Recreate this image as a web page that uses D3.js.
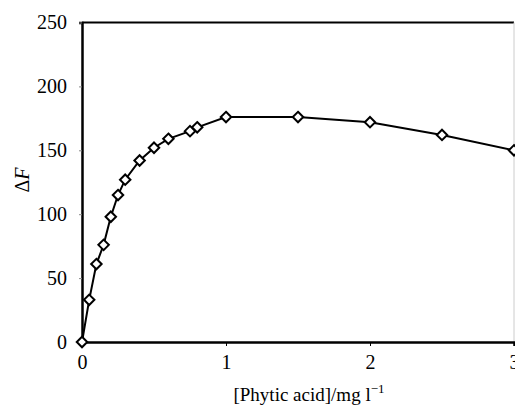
<!DOCTYPE html>
<html>
<head>
<meta charset="utf-8">
<script src="https://cdn.jsdelivr.net/npm/d3@7"></script>
<style>
  body { margin: 0; background: #fff; }
  svg { display: block; }
  text { font-family: "Liberation Serif", "Times New Roman", serif; fill: #000; }
</style>
</head>
<body>
<svg id="chart" width="515" height="408"></svg>
<script>
const conc = [0, 0.05, 0.1, 0.15, 0.2, 0.25, 0.3, 0.4, 0.5, 0.6, 0.75, 0.8, 1, 1.5, 2, 2.5, 3];
const deltaF = [0, 33, 61, 76, 98, 115, 127, 142, 152, 159, 165, 168, 176, 176, 172, 162, 150];
const xTicks = [0, 1, 2, 3];
const yTicks = [0, 50, 100, 150, 200, 250];

const padL = 82, padR = 514, padT = 22.5, padB = 342;

const svg = d3.select("#chart");

const xScale = d3.scaleLinear([0, 3], [padL, padR]);
const yScale = d3.scaleLinear([0, 250], [padB, padT]);

const points = conc.map((c, i) => ({x: c, y: deltaF[i]}));

// frame: top and faint right edge
svg.append("line")
    .attr("x1", padL).attr("x2", padR)
    .attr("y1", padT).attr("y2", padT)
    .attr("stroke", "#000").attr("stroke-width", 2);
svg.append("line")
    .attr("x1", padR).attr("x2", padR)
    .attr("y1", padT).attr("y2", padB)
    .attr("stroke", "#ccc").attr("stroke-width", 1);

const xAxis = d3.axisBottom(xScale)
                .tickValues(xTicks)
                .tickSize(4)
                .tickPadding(9)
                .tickFormat(d3.format("d"));

const yAxis = d3.axisLeft(yScale)
                .tickValues(yTicks)
                .tickSize(3)
                .tickPadding(12);

const gx = svg.append("g")
    .attr("transform", `translate(0, ${padB})`)
    .call(xAxis);
gx.select(".domain").attr("stroke-width", 2.5);
gx.selectAll("text").attr("font-size", "20px").attr("font-family", "Liberation Serif");

const gy = svg.append("g")
    .attr("transform", `translate(${padL}, 0)`)
    .call(yAxis);
gy.select(".domain").attr("stroke-width", 2.5);
gy.selectAll(".tick line").attr("stroke", "#888");
gy.selectAll("text").attr("font-size", "20px").attr("font-family", "Liberation Serif");

const lineMaker = d3.line()
                    .x(d => xScale(d.x))
                    .y(d => yScale(d.y));

svg.append("path")
    .datum(points)
    .attr("d", lineMaker)
    .attr("fill", "none")
    .attr("stroke", "#000")
    .attr("stroke-width", 2);

svg.selectAll(".pt")
    .data(points)
    .enter()
    .append("path")
    .attr("class", "pt")
    .attr("d", d3.symbol().type(d3.symbolDiamond2).size(70))
    .attr("transform", d => `translate(${xScale(d.x)}, ${yScale(d.y)})`)
    .attr("fill", "#fff")
    .attr("stroke", "#000")
    .attr("stroke-width", 2);

// axis titles
const xt = svg.append("text")
    .attr("x", 309)
    .attr("y", 401)
    .attr("text-anchor", "middle")
    .attr("font-size", "19px");
xt.append("tspan").text("[Phytic acid]/mg l");
xt.append("tspan").attr("dy", -8).attr("font-size", "13px").text("\u22121");

const yt = svg.append("text")
    .attr("transform", "translate(29, 180) rotate(-90)")
    .attr("text-anchor", "middle")
    .attr("font-size", "20px");
yt.append("tspan").text("\u0394");
yt.append("tspan").attr("font-style", "italic").text("F");
</script>
</body>
</html>
